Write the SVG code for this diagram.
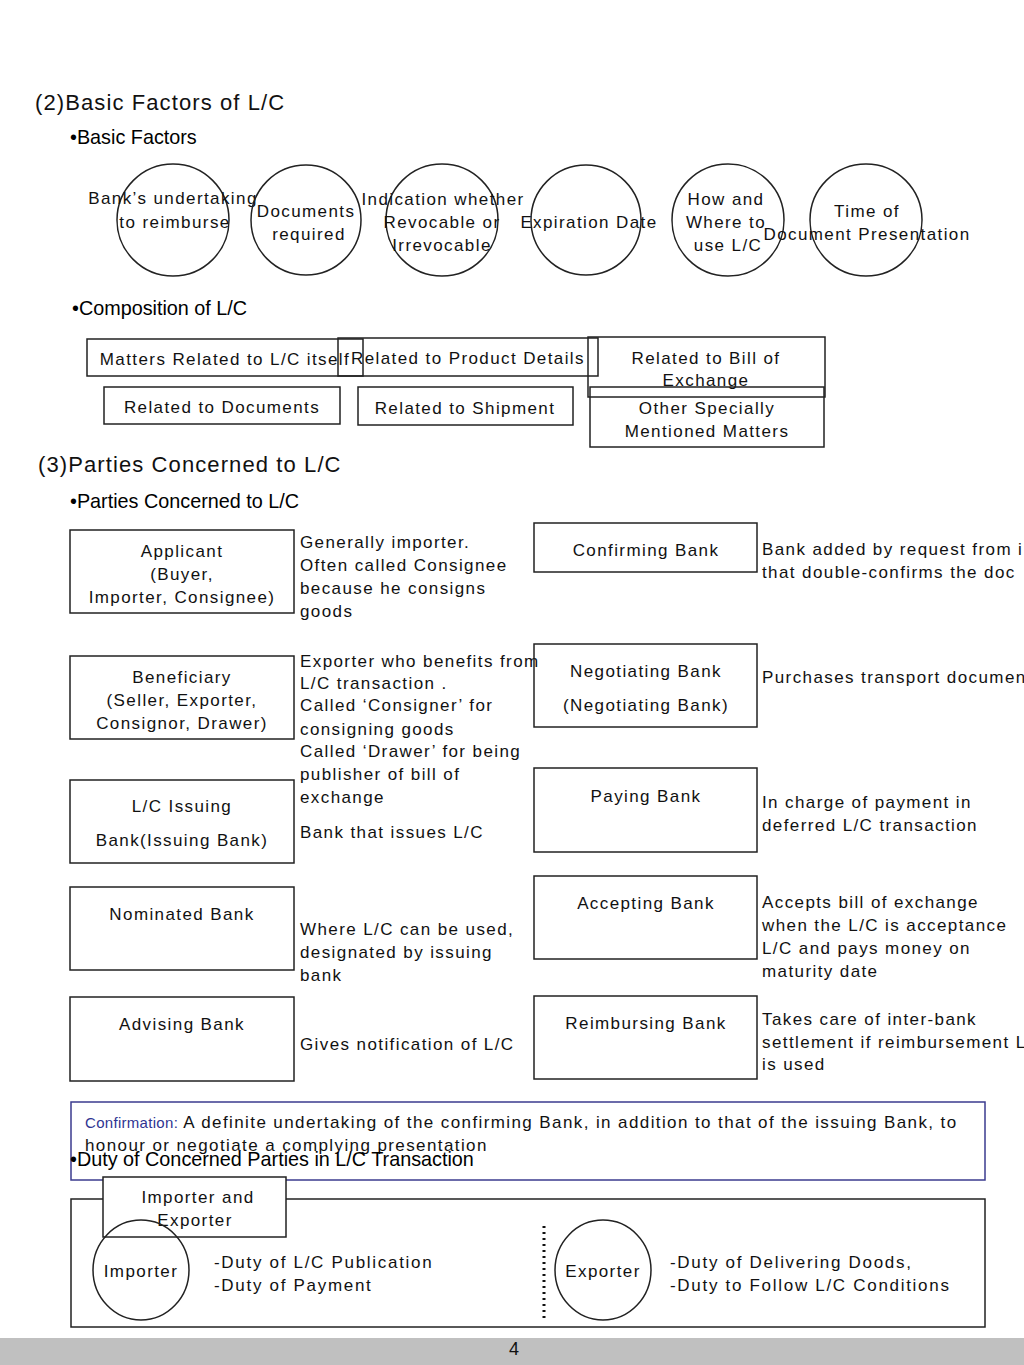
<svg xmlns="http://www.w3.org/2000/svg" width="1024" height="1365" viewBox="0 0 1024 1365">
<style>
.t{font-family:"Liberation Sans",Arial,sans-serif;font-size:17px;fill:#111;letter-spacing:1.4px}
.c{text-anchor:middle}
.d{letter-spacing:1.7px}
.h1{font-family:"Liberation Sans",Arial,sans-serif;font-size:22px;fill:#111;letter-spacing:1.1px}
.h2{font-family:"Liberation Sans",Arial,sans-serif;font-size:19.8px;fill:#000}
.b{fill:none;stroke:#222;stroke-width:1.5}
.w{fill:#fff;stroke:#222;stroke-width:1.5}
.n{font-family:"Liberation Sans",Arial,sans-serif;font-size:18px;fill:#111}
</style>
<rect width="1024" height="1365" fill="#fff"/>
<text class="h1" x="35" y="110">(2)Basic Factors of L/C</text>
<text class="h2" x="70" y="144">•Basic Factors</text>
<g id="factor1"><circle class="b" cx="173" cy="220" r="56"/><text class="t c" x="173" y="204">Bank’s undertaking</text><text class="t c" x="175" y="228">to reimburse</text></g>
<g id="factor2"><circle class="b" cx="306" cy="220" r="55"/><text class="t c" x="306" y="217">Documents</text><text class="t c" x="309" y="240">required</text></g>
<g id="factor3"><circle class="b" cx="442" cy="220" r="56"/><text class="t c" x="443" y="205">Indication whether</text><text class="t c" x="442" y="228">Revocable or</text><text class="t c" x="442" y="251">Irrevocable</text></g>
<g id="factor4"><circle class="b" cx="586" cy="220" r="55"/><text class="t c" x="589" y="228">Expiration Date</text></g>
<g id="factor5"><circle class="b" cx="728" cy="220" r="56"/><text class="t c" x="726" y="205">How and</text><text class="t c" x="726" y="228">Where to</text><text class="t c" x="728" y="251">use L/C</text></g>
<g id="factor6"><circle class="b" cx="866" cy="220" r="56"/><text class="t c" x="867" y="217">Time of</text><text class="t c" x="867" y="240">Document Presentation</text></g>
<text class="h2" x="72" y="315">•Composition of L/C</text>
<g id="comp1"><rect class="b" x="87" y="339" width="276" height="37"/><text class="t c" x="225" y="365">Matters Related to L/C itself</text></g>
<g id="comp2"><rect class="b" x="338" y="338" width="260" height="38"/><text class="t c" x="468" y="364">Related to Product Details</text></g>
<g id="comp3"><rect class="b" x="588" y="337" width="237" height="60"/><text class="t c" x="706" y="364">Related to Bill of</text><text class="t c" x="706" y="386">Exchange</text></g>
<g id="comp4"><rect class="b" x="104" y="387" width="236" height="37"/><text class="t c" x="222" y="413">Related to Documents</text></g>
<g id="comp5"><rect class="b" x="358" y="387" width="215" height="38"/><text class="t c" x="465" y="414">Related to Shipment</text></g>
<g id="comp6"><rect class="b" x="590" y="387" width="234" height="60"/><text class="t c" x="707" y="414">Other Specially</text><text class="t c" x="707" y="437">Mentioned Matters</text></g>
<text class="h1" x="38" y="472">(3)Parties Concerned to L/C</text>
<text class="h2" x="70" y="508">•Parties Concerned to L/C</text>
<g id="applicant"><rect class="b" x="70" y="530" width="224" height="83"/><text class="t c" x="182" y="557">Applicant</text><text class="t c" x="182" y="580">(Buyer,</text><text class="t c" x="182" y="603">Importer, Consignee)</text></g>
<g id="applicant-desc"><text class="t" x="300" y="548">Generally importer.</text><text class="t" x="300" y="571">Often called Consignee</text><text class="t" x="300" y="594">because he consigns</text><text class="t" x="300" y="617">goods</text></g>
<g id="beneficiary"><rect class="b" x="70" y="656" width="224" height="83"/><text class="t c" x="182" y="683">Beneficiary</text><text class="t c" x="182" y="706">(Seller, Exporter,</text><text class="t c" x="182" y="729">Consignor, Drawer)</text></g>
<g id="beneficiary-desc"><text class="t" x="300" y="667">Exporter who benefits from</text><text class="t" x="300" y="689">L/C transaction .</text><text class="t" x="300" y="711">Called ‘Consigner’ for</text><text class="t" x="300" y="735">consigning goods</text><text class="t" x="300" y="757">Called ‘Drawer’ for being</text><text class="t" x="300" y="780">publisher of bill of</text><text class="t" x="300" y="803">exchange</text></g>
<g id="issuing"><rect class="b" x="70" y="780" width="224" height="83"/><text class="t c" x="182" y="812">L/C Issuing</text><text class="t c" x="182" y="846">Bank(Issuing Bank)</text></g>
<text class="t" x="300" y="838">Bank that issues L/C</text>
<g id="nominated"><rect class="b" x="70" y="887" width="224" height="83"/><text class="t c" x="182" y="920">Nominated Bank</text></g>
<g id="nominated-desc"><text class="t" x="300" y="935">Where L/C can be used,</text><text class="t" x="300" y="958">designated by issuing</text><text class="t" x="300" y="981">bank</text></g>
<g id="advising"><rect class="b" x="70" y="997" width="224" height="84"/><text class="t c" x="182" y="1030">Advising Bank</text></g>
<text class="t" x="300" y="1050">Gives notification of L/C</text>
<g id="confirming"><rect class="b" x="534" y="523" width="223" height="49"/><text class="t c" x="646" y="556">Confirming Bank</text></g>
<g id="confirming-desc"><text class="t" x="762" y="555">Bank added by request from i</text><text class="t" x="762" y="578">that double-confirms the doc</text></g>
<g id="negotiating"><rect class="b" x="534" y="644" width="223" height="83"/><text class="t c" x="646" y="677">Negotiating Bank</text><text class="t c" x="646" y="711">(Negotiating Bank)</text></g>
<text class="t" x="762" y="683">Purchases transport documen</text>
<g id="paying"><rect class="b" x="534" y="768" width="223" height="84"/><text class="t c" x="646" y="802">Paying Bank</text></g>
<g id="paying-desc"><text class="t" x="762" y="808">In charge of payment in</text><text class="t" x="762" y="831">deferred L/C transaction</text></g>
<g id="accepting"><rect class="b" x="534" y="876" width="223" height="83"/><text class="t c" x="646" y="909">Accepting Bank</text></g>
<g id="accepting-desc"><text class="t" x="762" y="908">Accepts bill of exchange</text><text class="t" x="762" y="931">when the L/C is acceptance</text><text class="t" x="762" y="954">L/C and pays money on</text><text class="t" x="762" y="977">maturity date</text></g>
<g id="reimbursing"><rect class="b" x="534" y="996" width="223" height="83"/><text class="t c" x="646" y="1029">Reimbursing Bank</text></g>
<g id="reimbursing-desc"><text class="t" x="762" y="1025">Takes care of inter-bank</text><text class="t" x="762" y="1048">settlement if reimbursement L</text><text class="t" x="762" y="1070">is used</text></g>
<g id="confirmation">
<rect x="71" y="1102" width="914" height="78" fill="none" stroke="#3b3b8f" stroke-width="1.5"/>
<text class="t" x="85" y="1128"><tspan style="font-size:15px;fill:#2f3592;letter-spacing:0.3px">Confirmation:</tspan> A definite undertaking of the confirming Bank, in addition to that of the issuing Bank, to</text>
<text class="t" x="85" y="1151">honour or negotiate a complying presentation</text>
</g>
<text class="h2" x="70" y="1166">•Duty of Concerned Parties in L/C Transaction</text>
<g id="duty-box"><rect class="b" x="71" y="1199" width="914" height="128"/></g>
<g id="label"><rect class="w" x="103" y="1177" width="183" height="60"/><text class="t c" x="198" y="1203">Importer and</text><text class="t c" x="195" y="1226">Exporter</text></g>
<g id="importer"><ellipse class="b" cx="141" cy="1270" rx="48" ry="50"/><text class="t c" x="141" y="1277">Importer</text></g>
<g id="importer-duty"><text class="t d" x="214" y="1268">-Duty of L/C Publication</text><text class="t d" x="214" y="1291">-Duty of Payment</text></g>
<g id="connectors"><line x1="544" y1="1226" x2="544" y2="1318" stroke="#111" stroke-width="3" stroke-dasharray="2,4"/></g>
<g id="exporter"><ellipse class="b" cx="603" cy="1270" rx="48" ry="50"/><text class="t c" x="603" y="1277">Exporter</text></g>
<g id="exporter-duty"><text class="t d" x="670" y="1268">-Duty of Delivering Doods,</text><text class="t d" x="670" y="1291">-Duty to Follow L/C Conditions</text></g>
<rect x="0" y="1338" width="1024" height="27" fill="#c0c0c0"/>
<text class="n" x="514" y="1355" text-anchor="middle">4</text>
</svg>
